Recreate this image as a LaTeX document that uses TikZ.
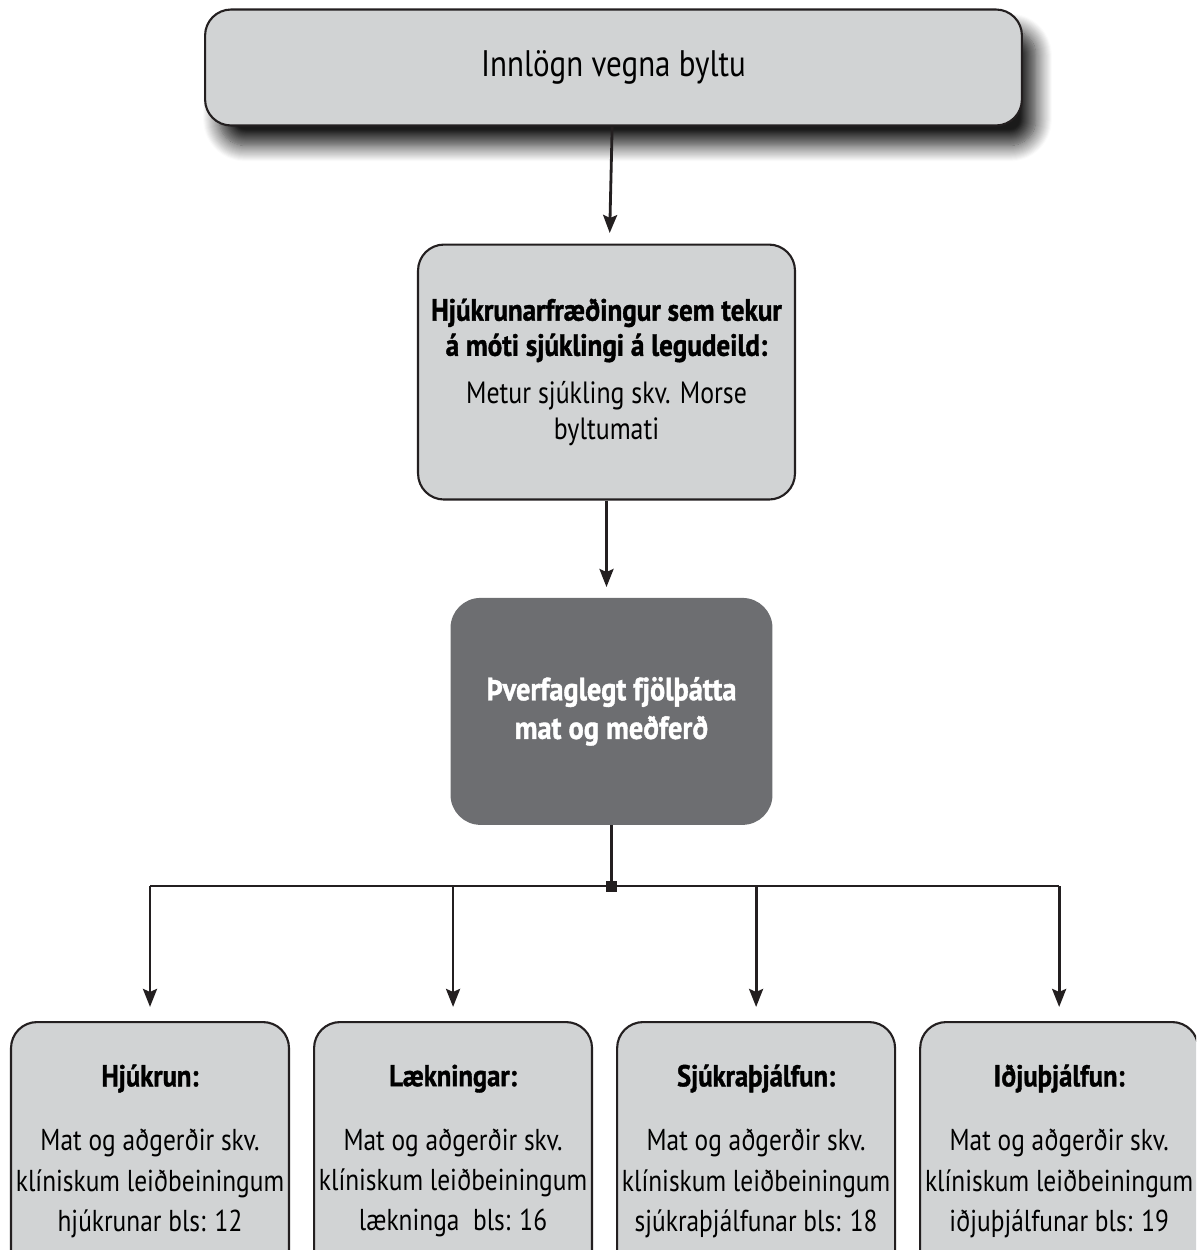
\documentclass[tikz,border=0pt]{standalone}
\usepackage{fontspec}
\setmainfont[FakeStretch=0.84, BoldFeatures={FakeStretch=0.88, FakeBold=1.2}]{PT Sans}
\usepackage{tikz}
\usetikzlibrary{arrows.meta,positioning,shadows.blur}

\definecolor{boxfill}{HTML}{D1D3D4}
\definecolor{matfill}{HTML}{6D6E71}
\definecolor{ink}{HTML}{231F20}

\begin{document}
\begin{tikzpicture}[
  x=0.02cm, y=-0.02cm,
  box/.style={draw=ink, line width=1.2pt, fill=boxfill, rounded corners=0.52cm, align=center, inner sep=0pt},
  matbox/.style={fill=matfill, text=white, rounded corners=0.6cm, align=center, inner sep=0pt},
  arr/.style={-{Stealth[length=0.36cm, width=0.28cm, inset=0.06cm]}, line width=1.6pt, draw=ink}
]
\useasboundingbox (0,0) rectangle (1196,1250);
\clip (0,0) rectangle (1196,1250);

\node[box, minimum width=16.34cm, minimum height=2.32cm,
  blur shadow={shadow xshift=0.28cm, shadow yshift=-0.4cm, shadow blur radius=0.32cm,
    shadow blur steps=16, shadow opacity=90},
  font=\fontsize{21}{25}\selectfont] (innlogn) at (613.5,67.5) {Innlögn vegna byltu};

\node[box, minimum width=7.54cm, minimum height=5.1cm, below=2.34cm of innlogn, xshift=-0.14cm,
  font=\fontsize{17.5}{20}\selectfont] (hjukfr)
  {\textbf{Hjúkrunarfræðingur sem tekur}\\
   \textbf{á móti sjúklingi á legudeild:}\\[7pt]
   Metur sjúkling skv. Morse\\[0.5pt] byltumati};

\node[matbox, minimum width=6.44cm, minimum height=4.54cm, below=1.94cm of hjukfr, xshift=0.1cm,
  font=\bfseries\fontsize{18.3}{22}\selectfont] (mat)
  {Þverfaglegt fjölþátta\\ mat og meðferð};

% fjórar greinar
\tikzset{sub/.style={box, minimum width=5.56cm, minimum height=5.16cm, font=\fontsize{17.2}{22.8}\selectfont}}
\node[sub, anchor=north] (hjukrun) at (150,1021)
  {\textbf{Hjúkrun:}\\[14pt] Mat og aðgerðir skv.\\ klíniskum leiðbeiningum\\ hjúkrunar bls: 12};
\node[sub, right=0.46cm of hjukrun] (laekn)
  {\textbf{Lækningar:}\\[14pt] Mat og aðgerðir skv.\\ klíniskum leiðbeiningum\\ lækninga\ \ bls: 16};
\node[sub, right=0.46cm of laekn] (sjukra)
  {\textbf{Sjúkraþjálfun:}\\[14pt] Mat og aðgerðir skv.\\ klíniskum leiðbeiningum\\ sjúkraþjálfunar bls: 18};
\node[sub, right=0.46cm of sjukra] (idju)
  {\textbf{Iðjuþjálfun:}\\[14pt] Mat og aðgerðir skv.\\ klíniskum leiðbeiningum\\ iðjuþjálfunar bls: 19};

% tengilínur
\draw[arr, shorten >=6pt] (innlogn) -- (hjukfr);
\draw[arr, shorten >=6pt] (hjukfr.south) -- (hjukfr.south |- mat.north);
\coordinate (split) at (mat.south |- 0,886);
\draw[line width=1.6pt, draw=ink] (mat.south) -- (split);
\draw[line width=1.6pt, draw=ink] (split -| hjukrun.north) -- (split -| idju.north);
\node[fill=ink, minimum size=0.22cm, inner sep=0pt] (jn) at (split) {};
\foreach \b in {hjukrun,laekn,sjukra,idju} {
  \draw[arr, shorten >=8pt] (split -| \b.north) -- (\b.north);
}
\end{tikzpicture}
\end{document}
